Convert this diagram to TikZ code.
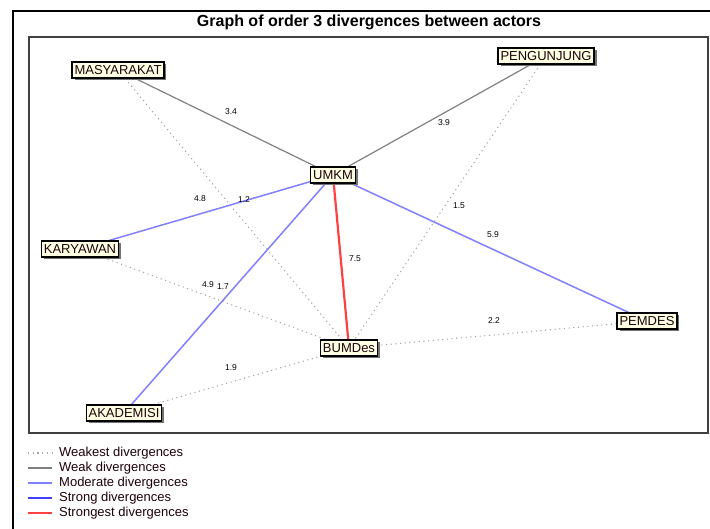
\documentclass[tikz,border=0pt]{standalone}
\usepackage{fontspec}
\setmainfont{Liberation Sans}
\usetikzlibrary{shadows,backgrounds}

\definecolor{nodefill}{RGB}{255,255,228}
\definecolor{weakgray}{RGB}{128,128,128}
\definecolor{dotgray}{RGB}{165,165,165}
\definecolor{modblue}{RGB}{128,128,255}
\definecolor{strongblue}{RGB}{64,64,255}
\definecolor{strongred}{RGB}{255,64,64}

\tikzset{
  actor/.style={draw=black, line width=1.2pt, fill=nodefill, inner xsep=2.5pt,
    inner ysep=0pt, minimum height=16pt, text=black!85!purple,
    font=\fontsize{13}{13}\selectfont,
    drop shadow={shadow xshift=2.5pt, shadow yshift=-2.5pt, fill=black!55, opacity=1}},
  lbl/.style={font=\fontsize{8.5}{8.5}\selectfont, inner sep=0pt, text=black},
  weakest/.style={draw=dotgray, line width=1.1pt, dash pattern=on 1.1pt off 3.6pt},
  weak/.style={draw=weakgray, line width=1.2pt},
  moderate/.style={draw=modblue, line width=1.5pt},
  strong/.style={draw=strongblue, line width=2pt},
  strongest/.style={draw=strongred, line width=2.2pt},
}

\begin{document}
\begin{tikzpicture}[x=1pt, y=-1pt]
    \useasboundingbox (0,0) rectangle (710,529);
    % frames and title
    \draw[line width=2pt] (13,529) |- (710,11);
    \draw[line width=1.2pt, black!75] (29,37) rectangle (708,433);
    \node[font=\bfseries\fontsize{16}{16}\selectfont] (title) at (369,22)
      {Graph of order 3 divergences between actors};
    % actors
    \node[actor] (masy) at (118,70) {MASYARAKAT};
    \node[actor] (peng) at (546,56) {PENGUNJUNG};
    \node[actor] (umkm) at (333,175) {UMKM};
    \node[actor] (kary) at (80,249) {KARYAWAN};
    \node[actor] (bumd) at (349,348) {BUMDes};
    \node[actor] (pemd) at (647,321) {PEMDES};
    \node[actor] (akad) at (124,413) {AKADEMISI};
    % divergences
    \begin{scope}[on background layer]
      \foreach \a/\b/\kind in {
        masy/bumd/weakest, peng/bumd/weakest, kary/bumd/weakest,
        akad/bumd/weakest, pemd/bumd/weakest,
        masy/umkm/weak, peng/umkm/weak,
        kary/umkm/moderate, akad/umkm/moderate, pemd/umkm/moderate,
        umkm/bumd/strongest}{
        \draw[style=\kind] (\a) -- (\b);
      }
    \end{scope}
    % values
    \foreach \x/\y/\val in {
      231/112/3.4, 444/123/3.9, 200/199/4.8, 244/200/1.2,
      459/206/1.5, 493/235/5.9, 355/259/7.5, 208/285/4.9,
      223/287/1.7, 494/321/2.2, 231/368/1.9}{
      \node[lbl] (v\x) at (\x,\y) {\val};
    }
    % legend
    \foreach \kind/\txt [count=\i] in {
      weakest/Weakest, weak/Weak, moderate/Moderate,
      strong/Strong, strongest/Strongest}{
      \coordinate (ls\i) at (28,438+15*\i);
      \coordinate (le\i) at (52,438+15*\i);
      \draw[style=\kind] (ls\i) -- (le\i);
      \node[anchor=west, inner sep=0pt, text=black!85!purple,
        font=\fontsize{13}{13}\selectfont] (lt\i) at (59,438+15*\i)
        {\txt{} divergences};
    }
  \end{tikzpicture}
\end{document}
